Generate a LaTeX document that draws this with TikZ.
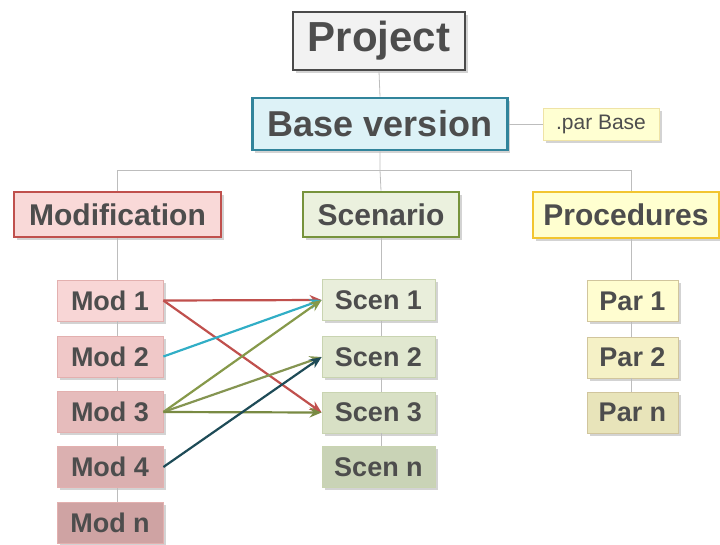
\documentclass[tikz,border=0pt]{standalone}
\usepackage{fontspec}
\setmainfont{Liberation Sans}
\usetikzlibrary{shadows,arrows.meta}
\definecolor{txt}{HTML}{4D4D4D}
\definecolor{projfill}{HTML}{F2F2F2}
\definecolor{projdraw}{HTML}{4A4A4A}
\definecolor{basefill}{HTML}{DDF2F7}
\definecolor{basedraw}{HTML}{31849B}
\definecolor{pbfill}{HTML}{FFFFD2}
\definecolor{pbdraw}{HTML}{EFE3A6}
\definecolor{modfill}{HTML}{F9D9D8}
\definecolor{moddraw}{HTML}{C0504D}
\definecolor{scfill}{HTML}{EBF1DE}
\definecolor{scdraw}{HTML}{77933C}
\definecolor{prfill}{HTML}{FFFFD0}
\definecolor{prdraw}{HTML}{F2C530}
\definecolor{mA}{HTML}{F8D6D6}
\definecolor{mB}{HTML}{F0C8C8}
\definecolor{mC}{HTML}{E6BCBC}
\definecolor{mD}{HTML}{DBB0B0}
\definecolor{mE}{HTML}{CFA3A3}
\definecolor{sA}{HTML}{E9EEDB}
\definecolor{sB}{HTML}{E1E8D0}
\definecolor{sC}{HTML}{D8E0C5}
\definecolor{sD}{HTML}{C9D3B6}
\definecolor{pA}{HTML}{FFFDD0}
\definecolor{pB}{HTML}{F5F1C6}
\definecolor{pC}{HTML}{E8E4BA}
\definecolor{treeline}{HTML}{BDBDBD}
\definecolor{aRed}{HTML}{C0504D}
\definecolor{aCyan}{HTML}{31AEC6}
\definecolor{aOlive}{HTML}{86994A}
\definecolor{aDark}{HTML}{1E4B57}
\tikzset{
  box/.style={rectangle, inner sep=0pt, text=txt, font=\bfseries,
    drop shadow={shadow xshift=2.5pt, shadow yshift=-2.5pt, opacity=0.35}},
  topbox/.style={box, line width=2.6pt},
  subbox/.style={box, line width=0.8pt, minimum height=41pt,
    font=\fontsize{27}{29}\selectfont\bfseries},
  modbox/.style={subbox, minimum width=106pt, draw=moddraw!45},
  scenbox/.style={subbox, minimum width=113pt, draw=scdraw!40},
  parbox/.style={subbox, minimum width=91pt, draw=prdraw!45!gray!60},
  tree/.style={draw=treeline, line width=0.8pt},
  link/.style={line width=2.2pt, -{Stealth[length=12pt,width=10pt]}},
  headfont/.style={font=\fontsize{30}{33}\selectfont\bfseries},
}
\begin{document}
\begin{tikzpicture}[x=1pt,y=-1pt]
\useasboundingbox (0,0) rectangle (720,544);
\coordinate (jL) at (117,170);
\coordinate (jM) at (380,170);
\coordinate (jR) at (631,170);
\node[topbox, draw=projdraw, fill=projfill, minimum width=172pt, minimum height=58pt,
  font=\fontsize{42}{46}\selectfont\bfseries] (proj) at (379,41) {Project};
\node[topbox, draw=basedraw, fill=basefill, minimum width=255pt, minimum height=52pt,
  font=\fontsize{36}{40}\selectfont\bfseries] (base) at (380,124) {Base version};
\node[box, draw=pbdraw, line width=0.8pt, fill=pbfill, minimum width=116pt, minimum height=32pt,
  font=\fontsize{21}{23}\selectfont] (pbase) at (601,124) {.par Base};
\node[topbox, headfont, draw=moddraw, fill=modfill, minimum width=207pt, minimum height=45pt] (modh) at (117.5,214.5) {Modification};
\node[topbox, headfont, draw=scdraw, fill=scfill, minimum width=156pt, minimum height=45pt] (scenh) at (381,214.5) {Scenario};
\node[topbox, headfont, draw=prdraw, fill=prfill, minimum width=186pt, minimum height=46pt] (proch) at (626,215) {Procedures};
% modifications
\node[modbox, fill=mA] (m1) at (110,300.5) {Mod 1};
\node[modbox, fill=mB] (m2) at (110,356.5) {Mod 2};
\node[modbox, fill=mC] (m3) at (110,412) {Mod 3};
\node[modbox, fill=mD] (m4) at (110,467) {Mod 4};
\node[modbox, fill=mE] (mn) at (110,522.5) {Mod n};
% scenarios
\node[scenbox, fill=sA] (s1) at (378.5,300) {Scen 1};
\node[scenbox, fill=sB] (s2) at (378.5,357) {Scen 2};
\node[scenbox, fill=sC] (s3) at (378.5,412.5) {Scen 3};
\node[scenbox, fill=sD] (sn) at (378.5,467) {Scen n};
% procedures
\node[parbox, fill=pA] (p1) at (632.5,301) {Par 1};
\node[parbox, fill=pB] (p2) at (632.5,357.5) {Par 2};
\node[parbox, fill=pC] (pn) at (632.5,412.5) {Par n};
% tree connectors
\draw[tree] (proj.south) -- (base.north);
\draw[tree] (base.east) -- (pbase.west);
\draw[tree] (base.south) -- (jM) -- (scenh.north);
\draw[tree] (jL) -- (jR);
\draw[tree] (jL) -- (jL |- modh.north);
\draw[tree] (jR) -- (jR |- proch.north);
\draw[tree] (m1.north -| jL) -- (jL |- modh.south);
\draw[tree] (m1.south -| jL) -- (m2.north -| jL);
\draw[tree] (m2.south -| jL) -- (m3.north -| jL);
\draw[tree] (m3.south -| jL) -- (m4.north -| jL);
\draw[tree] (m4.south -| jL) -- (mn.north -| jL);
\draw[tree] (scenh.south) -- (scenh.south |- s1.north);
\draw[tree] (s1.south -| scenh.south) -- (s2.north -| scenh.south);
\draw[tree] (s2.south -| scenh.south) -- (s3.north -| scenh.south);
\draw[tree] (s3.south -| scenh.south) -- (sn.north -| scenh.south);
\draw[tree] (jR |- proch.south) -- (jR |- p1.north);
\draw[tree] (p1.south -| jR) -- (p2.north -| jR);
\draw[tree] (p2.south -| jR) -- (pn.north -| jR);
% links
\draw[link, aRed] (m1.east) -- (s1.west);
\draw[link, aRed] (m1.east) -- (s3.west);
\draw[link, aCyan] (m2.east) -- (s1.west);
\draw[link, aOlive] (m3.east) -- (s1.west);
\draw[link, aOlive!85!gray] (m3.east) -- (s2.west);
\draw[link, aOlive!90!black] (m3.east) -- (s3.west);
\draw[link, aDark] (m4.east) -- (s2.west);
\end{tikzpicture}
\end{document}
